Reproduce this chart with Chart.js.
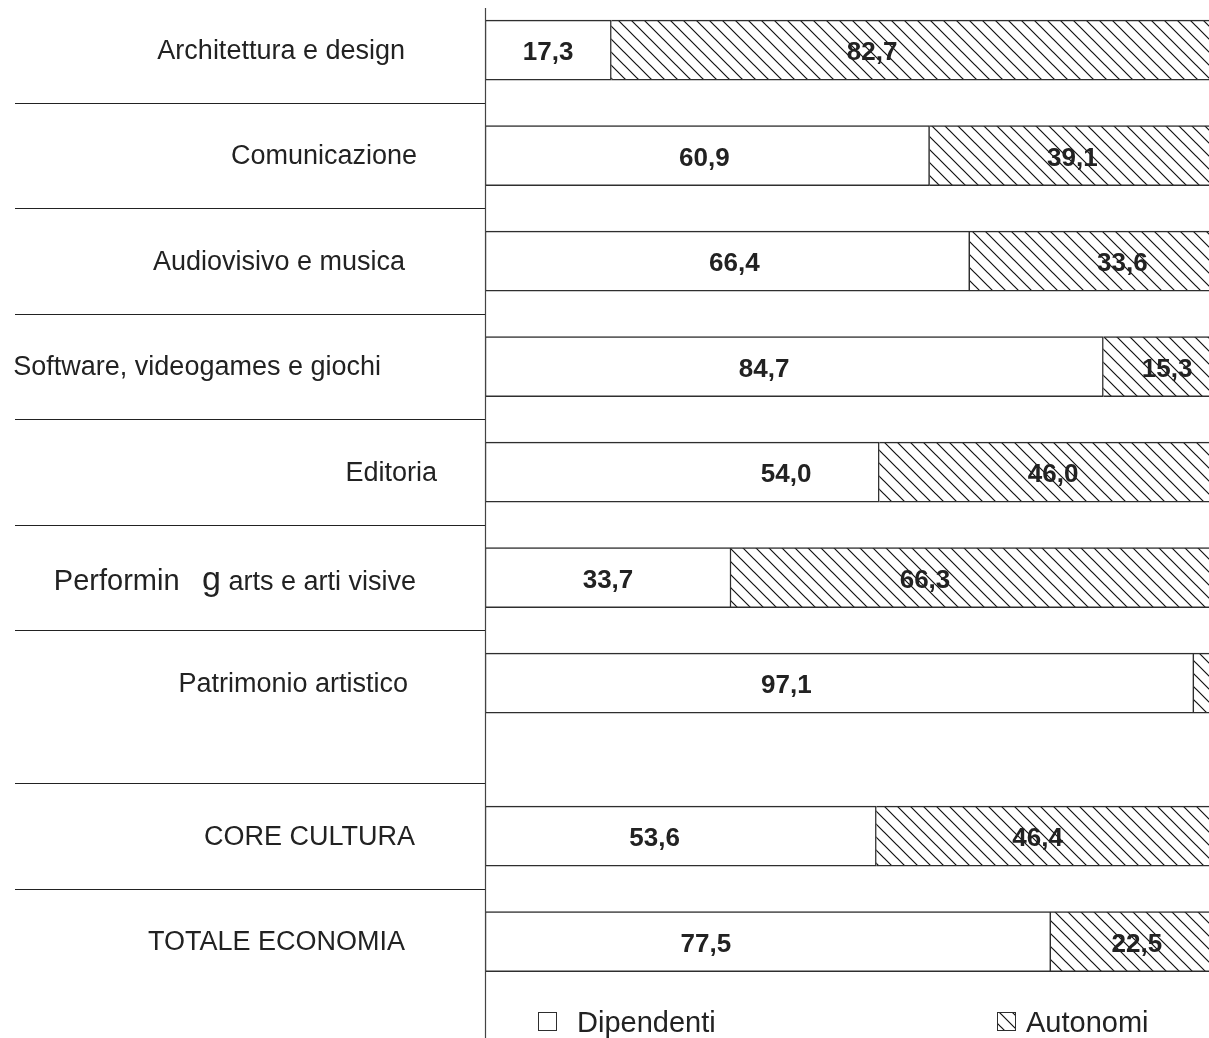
<!DOCTYPE html>
<html>
<head>
<meta charset="utf-8">
<script src="https://cdn.jsdelivr.net/npm/chart.js@4"></script>
<style>
  html, body { margin: 0; padding: 0; background: #fff; overflow: hidden; }
  #wrap { width: 1216px; height: 1038px; }
</style>
</head>
<body>
<div id="wrap"><canvas id="c" width="1216" height="1038"></canvas></div>
<script>
// ---- DATA ----
const categories = [
  "Architettura e design",
  "Comunicazione",
  "Audiovisivo e musica",
  "Software, videogames e giochi",
  "Editoria",
  "Performing arts e arti visive",
  "Patrimonio artistico",
  "CORE CULTURA",
  "TOTALE ECONOMIA"
];
const dipendenti = [17.3, 60.9, 66.4, 84.7, 54.0, 33.7, 97.1, 53.6, 77.5];
const autonomi   = [82.7, 39.1, 33.6, 15.3, 46.0, 66.3, 2.9, 46.4, 22.5];
const seriesNames = ["Dipendenti", "Autonomi"];

// ---- LAYOUT / STYLE (not data) ----
const groupGapAfter = 6;      // extra space after "Patrimonio artistico"
const groupGap = 0.45;
const positions = categories.map((_, i) => i + (i > groupGapAfter ? groupGap : 0));
// right edge of each category label, relative to the axis (px)
const labelEndOffset = [-80, -68, -80, -104, -48, -69, -77, -70, -80];
// horizontal nudge of value labels (px)
const shiftDip = [0, -3, 7, -30, 104, 0, -53, -26, -62];
const shiftAut = [-41, 0, 30, 8, 6, -48, 0, -8, 4];
const TEXT = '#222222';
const EDGE = '#2e2e2e';
const FONT = '"Liberation Sans", Arial, sans-serif';

function makeHatch(size) {
  const c = document.createElement('canvas');
  c.width = size; c.height = size;
  const g = c.getContext('2d');
  g.fillStyle = '#fff';
  g.fillRect(0, 0, size, size);
  g.strokeStyle = '#111';
  g.lineWidth = 1.2;
  g.beginPath();
  g.moveTo(-1, -1); g.lineTo(size + 1, size + 1);
  g.moveTo(size - 2, -2); g.lineTo(size + 2, 2);
  g.moveTo(-2, size - 2); g.lineTo(2, size + 2);
  g.stroke();
  return g.createPattern(c, 'repeat');
}
const hatch = makeHatch(13);

function fmt(v) { return v.toFixed(1).replace('.', ','); }

const deco = {
  id: 'deco',
  afterDraw(chart) {
    const ctx = chart.ctx;
    const ys = chart.scales.y;
    const area = chart.chartArea;
    const axisX = area.left;
    ctx.save();
    // vertical axis
    ctx.strokeStyle = '#444';
    ctx.lineWidth = 1.2;
    ctx.beginPath();
    ctx.moveTo(axisX + 0.5, area.top);
    ctx.lineTo(axisX + 0.5, chart.height);
    ctx.stroke();
    // separators
    ctx.strokeStyle = '#222';
    ctx.lineWidth = 1.2;
    for (let i = 0; i < positions.length - 1; i++) {
      const y = Math.round(ys.getPixelForValue(positions[i + 1] - 0.5)) + 0.5;
      ctx.beginPath();
      ctx.moveTo(15, y);
      ctx.lineTo(axisX, y);
      ctx.stroke();
    }
    // category labels
    ctx.fillStyle = TEXT;
    categories.forEach((lab, i) => {
      const y = ys.getPixelForValue(positions[i]) + 1;
      const end = axisX + labelEndOffset[i];
      if (lab.startsWith('Performing')) {
        const runs = [
          { t: 'Performin', s: 29 },
          { t: '   ', s: 27 },
          { t: 'g', s: 34 },
          { t: ' arts e arti visive', s: 27 }
        ];
        let total = 0;
        runs.forEach(r => { ctx.font = r.s + 'px ' + FONT; r.w = ctx.measureText(r.t).width; total += r.w; });
        let x = end - total;
        ctx.textAlign = 'left';
        ctx.textBaseline = 'alphabetic';
        runs.forEach(r => {
          ctx.font = r.s + 'px ' + FONT;
          ctx.fillText(r.t, x, y + 11);
          x += r.w;
        });
      } else {
        ctx.font = '27px ' + FONT;
        ctx.textAlign = 'right';
        ctx.textBaseline = 'middle';
        ctx.fillText(lab, end, y);
      }
    });
    // value labels
    ctx.font = 'bold 26px ' + FONT;
    ctx.textAlign = 'center';
    ctx.textBaseline = 'middle';
    ctx.fillStyle = TEXT;
    [[0, dipendenti, shiftDip], [1, autonomi, shiftAut]].forEach(([d, vals, sh]) => {
      const meta = chart.getDatasetMeta(d);
      meta.data.forEach((el, i) => {
        if (vals[i] < 5) return;
        const cx = (el.x + el.base) / 2 + sh[i];
        ctx.fillText(fmt(vals[i]), cx, el.y + 3);
      });
    });
    // legend
    const ly = 1012, bs = 19;
    ctx.lineWidth = 1;
    ctx.strokeStyle = EDGE;
    ctx.fillStyle = '#fff';
    ctx.fillRect(538, ly, bs, bs);
    ctx.strokeRect(538.5, ly + 0.5, bs - 1, bs - 1);
    ctx.fillStyle = hatch;
    ctx.fillRect(997, ly, bs, bs);
    ctx.strokeRect(997.5, ly + 0.5, bs - 1, bs - 1);
    ctx.fillStyle = TEXT;
    ctx.font = '29px ' + FONT;
    ctx.textAlign = 'left';
    ctx.textBaseline = 'alphabetic';
    ctx.fillText(seriesNames[0], 577, 1032);
    ctx.fillText(seriesNames[1], 1026, 1032);
    ctx.restore();
  }
};

new Chart(document.getElementById('c'), {
  type: 'bar',
  data: {
    datasets: [
      {
        label: seriesNames[0],
        data: dipendenti.map((v, i) => ({ x: v, y: positions[i] })),
        backgroundColor: '#ffffff',
        borderColor: EDGE,
        borderWidth: 1.5,
        borderSkipped: false,
        barThickness: 60
      },
      {
        label: seriesNames[1],
        data: autonomi.map((v, i) => ({ x: v, y: positions[i] })),
        backgroundColor: hatch,
        borderColor: EDGE,
        borderWidth: 1.5,
        borderSkipped: 'start',
        barThickness: 60
      }
    ]
  },
  options: {
    indexAxis: 'y',
    responsive: false,
    animation: false,
    events: [],
    layout: { padding: { left: 485, right: 1, top: 8, bottom: 0 } },
    scales: {
      x: { type: 'linear', stacked: true, min: 0, max: 100, display: false, offset: false },
      y: { type: 'linear', stacked: true, reverse: true, min: -0.40, max: 9.363, display: false, offset: false, grace: 0 }
    },
    plugins: { legend: { display: false }, tooltip: { enabled: false } }
  },
  plugins: [deco]
});
</script>
</body>
</html>
